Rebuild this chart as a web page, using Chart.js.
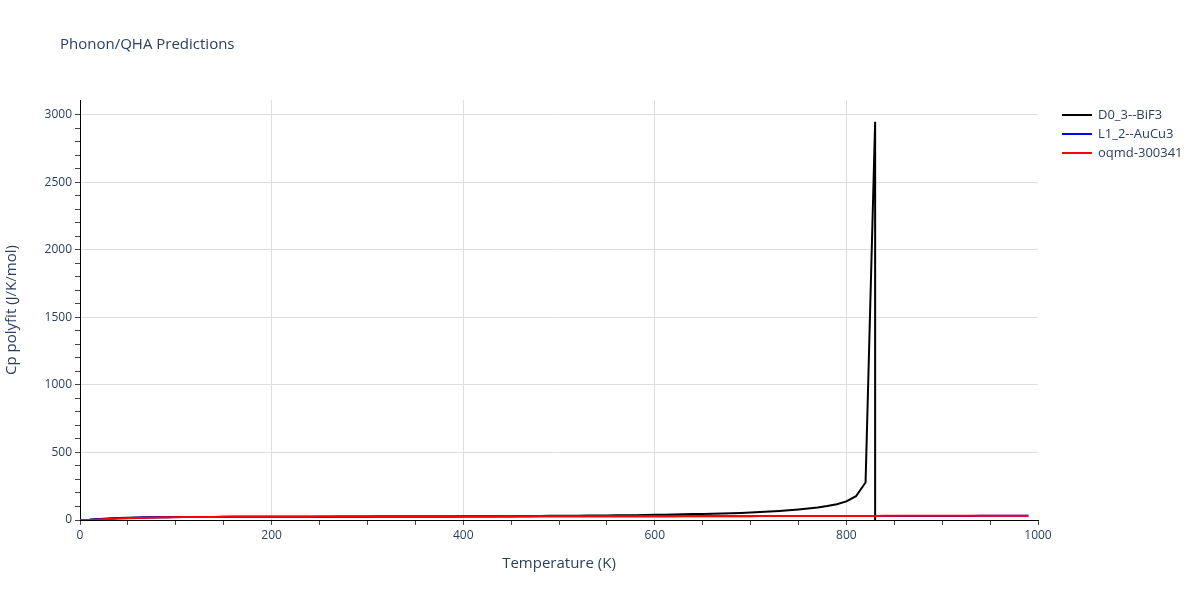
<!DOCTYPE html>
<html>
<head>
<meta charset="utf-8">
<title>Phonon/QHA Predictions</title>
<script src="https://cdn.jsdelivr.net/npm/chart.js@4/dist/chart.umd.min.js"></script>
<style>
  body { margin: 0; background: #fff; }
  canvas { display: block; }
</style>
</head>
<body>
<canvas id="qhaChart" width="1200" height="600"></canvas>
<script>
// Températures (K)
const temps = [
  0, 10, 20, 30, 40, 50, 60, 70, 80, 90,
  100, 110, 120, 130, 140, 150, 160, 170, 180, 190,
  200, 210, 220, 230, 240, 250, 260, 270, 280, 290,
  300, 310, 320, 330, 340, 350, 360, 370, 380, 390,
  400, 410, 420, 430, 440, 450, 460, 470, 480, 490,
  500, 510, 520, 530, 540, 550, 560, 570, 580, 590,
  600, 610, 620, 630, 640, 650, 660, 670, 680, 690,
  700, 710, 720, 730, 740, 750, 760, 770, 780, 790,
  800, 810, 820, 830, 840, 850, 860, 870, 880, 890,
  900, 910, 920, 930, 940, 950, 960, 970, 980, 990
];

// BiF3 : s'arrête à 830 K (chute verticale)
const tempsBiF3 = [
  0, 10, 20, 30, 40, 50, 60, 70, 80, 90,
  100, 110, 120, 130, 140, 150, 160, 170, 180, 190,
  200, 210, 220, 230, 240, 250, 260, 270, 280, 290,
  300, 310, 320, 330, 340, 350, 360, 370, 380, 390,
  400, 410, 420, 430, 440, 450, 460, 470, 480, 490,
  500, 510, 520, 530, 540, 550, 560, 570, 580, 590,
  600, 610, 620, 630, 640, 650, 660, 670, 680, 690,
  700, 710, 720, 730, 740, 750, 760, 770, 780, 790,
  800, 810, 820, 830, 830
];
const cpBiF3 = [
  0, 2.1, 6.8, 11.3, 14.7, 17.0, 18.6, 19.7, 20.5, 21.1,
  21.6, 22.0, 22.3, 22.6, 22.8, 23.0, 23.2, 23.4, 23.5, 23.7,
  23.8, 23.9, 24.0, 24.1, 24.2, 24.3, 24.4, 24.5, 24.6, 24.7,
  24.9, 25.0, 25.2, 25.3, 25.5, 25.7, 25.9, 26.1, 26.3, 26.6,
  26.9, 27.2, 27.5, 27.9, 28.3, 28.7, 29.2, 29.7, 30.2, 30.6,
  31.0, 31.5, 32.0, 32.5, 33.0, 33.6, 34.3, 35.1, 36.0, 37.2,
  38.5, 39.8, 41.0, 42.3, 43.6, 45.0, 46.5, 48.2, 50.2, 52.5,
  55.5, 58.8, 62.8, 67.0, 71.8, 77.5, 84.5, 92.5, 103, 117,
  138, 176, 278, 2950, 0
];

const cpAuCu3 = [
  0, 1.2, 4.8, 9.2, 12.8, 15.5, 17.4, 18.9, 20.0, 20.8,
  21.5, 22.0, 22.4, 22.8, 23.1, 23.4, 23.6, 23.8, 24.0, 24.1,
  24.3, 24.4, 24.5, 24.6, 24.7, 24.8, 24.9, 25.0, 25.1, 25.2,
  25.3, 25.4, 25.5, 25.6, 25.7, 25.8, 25.8, 25.9, 26.0, 26.1,
  26.2, 26.3, 26.4, 26.5, 26.5, 26.6, 26.7, 26.8, 26.9, 27.0,
  27.0, 27.1, 27.2, 27.3, 27.4, 27.5, 27.5, 27.6, 27.7, 27.8,
  27.9, 28.0, 28.0, 28.1, 28.2, 28.3, 28.4, 28.5, 28.5, 28.6,
  28.7, 28.8, 28.9, 28.9, 29.0, 29.1, 29.2, 29.3, 29.3, 29.4,
  29.5, 29.6, 29.7, 29.7, 29.8, 29.9, 30.0, 30.1, 30.1, 30.2,
  30.3, 30.4, 30.4, 30.5, 30.6, 30.7, 30.8, 30.8, 30.9, 31.0
];

const cpOqmd = [
  0, 0.6, 3.2, 6.8, 10.2, 13.1, 15.4, 17.2, 18.6, 19.7,
  20.6, 21.3, 21.9, 22.4, 22.8, 23.2, 23.5, 23.8, 24.0, 24.2,
  24.4, 24.5, 24.7, 24.8, 24.9, 25.0, 25.1, 25.2, 25.3, 25.4,
  25.5, 25.6, 25.7, 25.8, 25.9, 26.0, 26.1, 26.2, 26.3, 26.4,
  26.5, 26.6, 26.7, 26.8, 26.9, 27.0, 27.1, 27.2, 27.3, 27.4,
  27.5, 27.6, 27.7, 27.8, 27.9, 28.0, 28.1, 28.2, 28.3, 28.4,
  28.5, 28.6, 28.7, 28.8, 28.9, 29.0, 29.1, 29.2, 29.3, 29.4,
  29.5, 29.6, 29.6, 29.7, 29.8, 29.9, 30.0, 30.1, 30.1, 30.2,
  30.3, 30.4, 30.5, 30.5, 30.6, 30.7, 30.8, 30.9, 30.9, 31.0,
  31.1, 31.2, 31.2, 31.3, 31.4, 31.5, 31.6, 31.6, 31.7, 31.8
];

const seriesNames = ['D0_3--BiF3', 'L1_2--AuCu3', 'oqmd-300341'];
const seriesColors = ['#000000', '#0000ff', '#ff0000'];

const textColor = '#2a3f5f';
const gridColor = '#dedede';
const fontFamily = '"Open Sans", "DejaVu Sans", sans-serif';

function toPoints(xs, ys) {
  return xs.map((x, i) => ({ x: x, y: ys[i] }));
}

// Titre et légende dessinés à la main pour coller à la mise en page
const decorPlugin = {
  id: 'decor',
  afterDraw(chart) {
    const ctx = chart.ctx;
    ctx.save();
    ctx.fillStyle = textColor;
    ctx.font = '15px ' + fontFamily;
    ctx.textBaseline = 'middle';
    ctx.textAlign = 'left';
    ctx.fillText('Phonon/QHA Predictions', 60, 45);

    ctx.font = '13px ' + fontFamily;
    seriesNames.forEach((name, i) => {
      const y = 115 + i * 19;
      ctx.strokeStyle = seriesColors[i];
      ctx.lineWidth = 2;
      ctx.beginPath();
      ctx.moveTo(1062, y);
      ctx.lineTo(1092, y);
      ctx.stroke();
      ctx.fillStyle = textColor;
      ctx.fillText(name, 1098, y);
    });
    ctx.restore();
  }
};

const datasets = [
  { data: toPoints(tempsBiF3, cpBiF3), order: 2 },
  { data: toPoints(temps, cpAuCu3), order: 1 },
  { data: toPoints(temps, cpOqmd), order: 0 }
].map((d, i) => Object.assign(d, {
  label: seriesNames[i],
  borderColor: seriesColors[i],
  backgroundColor: seriesColors[i],
  borderWidth: 2,
  pointRadius: 0,
  tension: 0,
  fill: false
}));

const chartConfig = {
  type: 'line',
  data: { datasets: datasets },
  options: {
    responsive: false,
    animation: false,
    layout: { padding: { left: 0, top: 100, right: 162, bottom: 0 } },
    plugins: {
      legend: { display: false },
      title: { display: false },
      tooltip: { enabled: false }
    },
    scales: {
      x: {
        type: 'linear',
        min: 0,
        max: 1000,
        afterFit: function(scale) { scale.height = 80; },
        title: {
          display: true,
          text: 'Temperature (K)',
          color: textColor,
          font: { family: fontFamily, size: 15 },
          padding: { top: 4, bottom: 27 }
        },
        border: { display: true, color: '#000', width: 1 },
        grid: {
          color: c => (c.tick && c.tick.value % 200 === 0 && c.tick.value < 1000) ? gridColor : 'rgba(0,0,0,0)',
          tickColor: c => (c.tick && c.tick.value % 50 === 0) ? '#444' : 'rgba(0,0,0,0)',
          tickLength: 5,
          drawTicks: true
        },
        ticks: {
          stepSize: 50,
          autoSkip: false,
          maxRotation: 0,
          padding: 3,
          color: textColor,
          font: { family: fontFamily, size: 12 },
          callback: v => (v % 200 === 0 ? v : '')
        }
      },
      y: {
        type: 'linear',
        min: 0,
        max: 3111,
        afterFit: function(scale) { scale.width = 80; },
        title: {
          display: true,
          text: 'Cp polyfit (J/K/mol)',
          color: textColor,
          font: { family: fontFamily, size: 15 },
          padding: { top: 3, bottom: 4 }
        },
        border: { display: true, color: '#000', width: 1 },
        grid: {
          color: c => (c.tick && c.tick.value % 500 === 0) ? gridColor : 'rgba(0,0,0,0)',
          tickColor: c => (c.tick && c.tick.value % 100 === 0) ? '#444' : 'rgba(0,0,0,0)',
          tickLength: 5,
          drawTicks: true
        },
        ticks: {
          stepSize: 100,
          autoSkip: false,
          padding: 3,
          color: textColor,
          font: { family: fontFamily, size: 12 },
          callback: v => (v % 500 === 0 ? v : '')
        }
      }
    }
  },
  plugins: [decorPlugin]
};

document.addEventListener('DOMContentLoaded', function() {
  const ctx = document.getElementById('qhaChart').getContext('2d');
  new Chart(ctx, chartConfig);
});
</script>
</body>
</html>
